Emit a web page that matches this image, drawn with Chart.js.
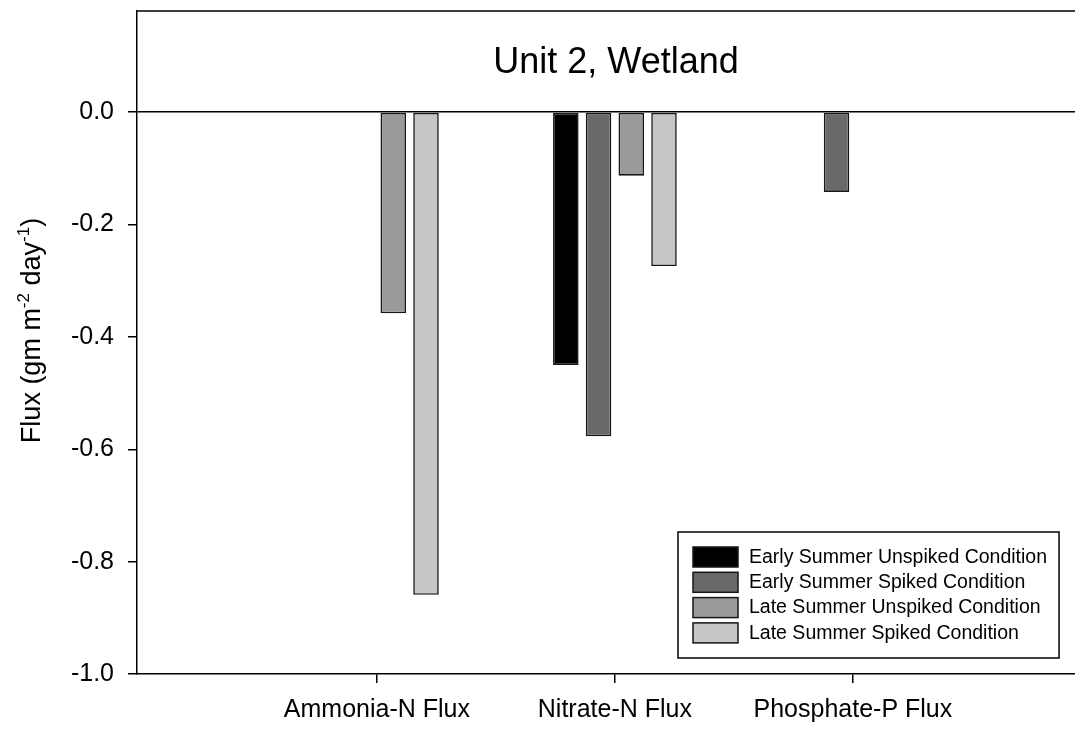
<!DOCTYPE html>
<html>
<head>
<meta charset="utf-8">
<title>Unit 2, Wetland</title>
<script src="https://cdn.jsdelivr.net/npm/chart.js@4"></script>
<style>
  html, body { margin: 0; padding: 0; background: #fff; overflow: hidden; }
  #wrap { width: 1120px; height: 729px; }
</style>
</head>
<body>
<div id="wrap"><canvas id="fluxChart" width="1120" height="729"></canvas></div>
<script>
// data
const categories = ['Ammonia-N Flux', 'Nitrate-N Flux', 'Phosphate-P Flux'];
const seriesNames = [
    'Early Summer Unspiked Condition',
    'Early Summer Spiked Condition',
    'Late Summer Unspiked Condition',
    'Late Summer Spiked Condition'
];
const earlyUnspiked = [null, -0.450, null];
const earlySpiked   = [null, -0.577, -0.142];
const lateUnspiked  = [-0.358, -0.113, null];
const lateSpiked    = [-0.859, -0.274, null];
const yTicks = [-1.0, -0.8, -0.6, -0.4, -0.2, 0.0];

const fills = ['#000000', '#696969', '#9a9a9a', '#c6c6c6'];
const FONT = "'Liberation Sans', Arial, sans-serif";

const toPoints = values => values.map((v, i) => ({ x: i + 1, y: v }));

const datasets = [earlyUnspiked, earlySpiked, lateUnspiked, lateSpiked].map((vals, k) => ({
    label: seriesNames[k],
    data: toPoints(vals),
    backgroundColor: fills[k],
    borderColor: '#161616',
    borderWidth: 1.6,
    borderSkipped: false,
    categoryPercentage: 0.55,
    barPercentage: 0.78
}));

// title, top frame line, y title with superscripts and the boxed legend
const decorations = {
    id: 'decorations',
    afterDraw(chart) {
        const { ctx, chartArea } = chart;
        ctx.save();

        // top frame
        ctx.strokeStyle = '#000';
        ctx.lineWidth = 1.5;
        ctx.beginPath();
        ctx.moveTo(chartArea.left, chartArea.top);
        ctx.lineTo(chartArea.right, chartArea.top);
        ctx.stroke();

        // title inside the plot
        ctx.fillStyle = '#000';
        ctx.font = '36px ' + FONT;
        ctx.textAlign = 'center';
        ctx.textBaseline = 'alphabetic';
        ctx.fillText('Unit 2, Wetland', 616, chartArea.top + 62);

        // y axis title
        const parts = [
            ['Flux (gm m', false], ['-2', true], [' day', false], ['-1', true], [')', false]
        ];
        const big = '27px ' + FONT, small = '17px ' + FONT;
        let total = 0;
        parts.forEach(([t, sup]) => { ctx.font = sup ? small : big; total += ctx.measureText(t).width; });
        ctx.translate(40, (chartArea.top + chartArea.bottom) / 2 - 12);
        ctx.rotate(-Math.PI / 2);
        ctx.textAlign = 'left';
        let x = -total / 2;
        parts.forEach(([t, sup]) => {
            ctx.font = sup ? small : big;
            ctx.fillText(t, x, sup ? -11 : 0);
            x += ctx.measureText(t).width;
        });
        ctx.setTransform(1, 0, 0, 1, 0, 0);

        // legend box
        ctx.font = '19.5px ' + FONT;
        const textX = 749;
        const maxW = Math.max(...seriesNames.map(s => ctx.measureText(s).width));
        ctx.lineWidth = 1.5;
        ctx.strokeStyle = '#000';
        ctx.fillStyle = '#fff';
        ctx.fillRect(678, 532, textX + maxW + 12 - 678, 126);
        ctx.strokeRect(678, 532, textX + maxW + 12 - 678, 126);
        ctx.textBaseline = 'middle';
        seriesNames.forEach((name, k) => {
            const top = 547 + k * 25.3;
            ctx.fillStyle = fills[k];
            ctx.fillRect(693, top, 45, 20);
            ctx.strokeStyle = '#161616';
            ctx.strokeRect(693, top, 45, 20);
            ctx.fillStyle = '#000';
            ctx.fillText(name, textX, top + 10.5);
        });
        ctx.restore();
    }
};

const fluxChart = new Chart(document.getElementById('fluxChart'), {
    type: 'bar',
    data: { datasets: datasets },
    options: {
        responsive: false,
        animation: false,
        layout: { padding: { top: 11, right: 31, left: 0, bottom: 0 } },
        plugins: {
            legend: { display: false },
            title: { display: false },
            tooltip: { enabled: false }
        },
        scales: {
            x: {
                type: 'linear',
                min: -0.008,
                max: 3.992,
                offset: false,
                afterBuildTicks: scale => {
                    scale.ticks = categories.map((_, i) => ({ value: i + 1 }));
                },
                afterFit: scale => {
                    scale.height = 55;
                    scale.paddingLeft = 0;
                    scale.paddingRight = 0;
                },
                ticks: {
                    autoSkip: false,
                    maxRotation: 0,
                    padding: 12,
                    color: '#000',
                    font: { family: FONT, size: 25 },
                    callback: value => categories[value - 1] || ''
                },
                grid: {
                    offset: false,
                    drawOnChartArea: false,
                    tickLength: 9,
                    color: '#000',
                    lineWidth: 1.5
                },
                border: { display: true, color: '#000', width: 1.5 }
            },
            y: {
                min: -1.0,
                max: 0.18,
                afterBuildTicks: scale => {
                    scale.ticks = yTicks.map(v => ({ value: v }));
                },
                afterFit: scale => {
                    scale.width = 137;
                    scale.paddingTop = 0;
                    scale.paddingBottom = 0;
                },
                ticks: {
                    padding: 14,
                    color: '#000',
                    font: { family: FONT, size: 25 },
                    callback: value => value.toFixed(1)
                },
                grid: {
                    drawOnChartArea: true,
                    tickLength: 9,
                    lineWidth: 1.5,
                    color: c => (c.tick && Math.abs(c.tick.value) < 1e-9) ? '#000' : 'rgba(0,0,0,0)',
                    tickColor: '#000'
                },
                border: { display: true, color: '#000', width: 1.5 }
            }
        }
    },
    plugins: [decorations]
});
</script>
</body>
</html>
